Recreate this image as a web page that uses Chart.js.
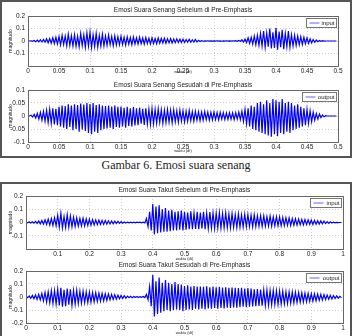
<!DOCTYPE html>
<html>
<head>
<meta charset="utf-8">
<script src="https://cdn.jsdelivr.net/npm/chart.js@4.4.0/dist/chart.umd.min.js"></script>
<style>
body { margin: 0; width: 352px; height: 336px; background: #fff; position: relative; overflow: hidden; }
.frame { position: absolute; left: 0; width: 348px; border: 2px solid #555; }
canvas { position: absolute; left: 0; }
#caption { position: absolute; top: 158px; left: 0; width: 352px; text-align: center;
  font: 12px "Liberation Serif", "Times New Roman", serif; color: #222; }
</style>
</head>
<body>
<div class="frame" style="top:0; height:154px"></div>
<div class="frame" style="top:182px; height:170px"></div>
<canvas id="c1" width="352" height="76" style="top:2px"></canvas>
<canvas id="c2" width="352" height="80" style="top:78px"></canvas>
<div id="caption">Gambar 6. Emosi suara senang</div>
<canvas id="c3" width="352" height="77" style="top:184px"></canvas>
<canvas id="c4" width="352" height="76" style="top:260px"></canvas>
<script>
// peak values of the waveform, alternating up / down, one every "step" seconds
const senangStep = 0.0025;
const takutStep = 0.005;

const senangInput = [
  0, 0, .002, -.003, .004, -.005, .007, -.006, .01, -.008,
  .012, -.01, .018, -.014, .02, -.018, .026, -.02, .03, -.024,
  .035, -.03, .045, -.028, .04, -.038, .055, -.035, .042, -.04,
  .05, -.042, .038, -.045, .06, -.036, .048, -.05, .065, -.04,
  .07, -.052, .05, -.045, .062, -.048, .045, -.04, .055, -.038,
  .04, -.035, .048, -.03, .036, -.038, .042, -.032, .035, -.03,
  .038, -.028, .03, -.032, .034, -.026, .028, -.03, .032, -.024,
  .026, -.025, .03, -.022, .024, -.026, .028, -.02, .022, -.024,
  .025, -.02, .02, -.022, .024, -.018, .02, -.016, .022, -.018,
  .018, -.015, .02, -.016, .015, -.014, .018, -.012, .014, -.013,
  .015, -.012, .012, -.01, .014, -.01, .01, -.009, .012, -.008,
  .006, -.004, .002, -.002, .001, -.001, .002, -.001, .001, -.001,
  .001, -.001, .002, -.001, .001, -.002, .001, -.001, .002, -.001,
  .001, -.001, .002, -.001, .003, -.002, .005, -.004, .01, -.008,
  .015, -.012, .025, -.02, .03, -.025, .04, -.03, .045, -.035,
  .06, -.04, .08, -.05, .065, -.045, .1, -.06, .07, -.055,
  .105, -.07, .075, -.05, .09, -.065, .06, -.045, .08, -.05,
  .05, -.04, .045, -.035, .04, -.03, .035, -.028, .03, -.022,
  .025, -.02, .018, -.015, .012, -.01, .008, -.006, .004, -.003,
  .002, -.001, 0, 0, 0, 0, 0, 0, 0, 0
];

const senangOutput = [
  0, 0, .003, -.004, .006, -.008, .01, -.012, .014, -.016,
  .018, -.02, .022, -.025, .026, -.028, .03, -.032, .028, -.035,
  .035, -.04, .04, -.045, .038, -.05, .045, -.042, .04, -.055,
  .045, -.05, .042, -.06, .048, -.052, .044, -.058, .05, -.065,
  .046, -.07, .05, -.06, .042, -.065, .045, -.055, .04, -.05,
  .038, -.048, .04, -.045, .036, -.05, .04, -.042, .035, -.045,
  .036, -.04, .032, -.045, .035, -.038, .03, -.04, .034, -.036,
  .03, -.035, .032, -.03, .028, -.034, .03, -.03, .026, -.032,
  .028, -.03, .025, -.028, .027, -.025, .024, -.028, .022, -.025,
  .025, -.024, .022, -.026, .024, -.022, .02, -.024, .022, -.02,
  .02, -.022, .018, -.02, .021, -.018, .017, -.02, .018, -.016,
  .016, -.018, .015, -.016, .017, -.014, .015, -.016, .014, -.015,
  .015, -.014, .013, -.015, .014, -.012, .013, -.014, .012, -.013,
  .013, -.012, .012, -.014, .013, -.012, .015, -.014, .018, -.02,
  .025, -.03, .03, -.04, .04, -.05, .035, -.055, .05, -.06,
  .055, -.065, .045, -.07, .06, -.075, .05, -.08, .065, -.07,
  .06, -.078, .055, -.065, .065, -.07, .05, -.06, .055, -.065,
  .05, -.055, .04, -.05, .045, -.045, .035, -.04, .03, -.035,
  .025, -.028, .02, -.022, .015, -.016, .01, -.012, .008, -.006,
  .004, -.003, .001, 0, 0, 0, 0, 0, 0, 0
];

const takutInput = [
  .002, -.002, .004, -.004, .006, -.005, .008, -.007, .012, -.01,
  .015, -.012, .02, -.015, .025, -.02, .03, -.022, .035, -.025,
  .055, -.035, .07, -.04, .045, -.038, .06, -.035, .05, -.032,
  .04, -.03, .035, -.028, .03, -.026, .032, -.025, .028, -.022,
  .025, -.02, .022, -.018, .02, -.016, .018, -.015, .016, -.014,
  .015, -.012, .013, -.011, .012, -.01, .01, -.008, .009, -.007,
  .006, -.005, .004, -.004, .003, -.003, .002, -.002, .002, -.002,
  .002, -.001, .002, -.002, .003, -.003, .03, -.03, .08, -.06,
  .14, -.09, .12, -.08, .13, -.075, .1, -.07, .11, -.07,
  .09, -.065, .095, -.06, .08, -.06, .085, -.055, .09, -.06,
  .08, -.055, .075, -.05, .085, -.05, .07, -.048, .08, -.05,
  .075, -.045, .08, -.05, .07, -.045, .078, -.042, .072, -.045,
  .07, -.04, .075, -.042, .068, -.04, .072, -.038, .065, -.04,
  .068, -.036, .06, -.038, .065, -.035, .058, -.034, .062, -.032,
  .06, -.03, .055, -.032, .058, -.03, .05, -.028, .052, -.03,
  .05, -.028, .045, -.026, .048, -.028, .042, -.025, .044, -.025,
  .042, -.025, .038, -.024, .036, -.022, .034, -.022, .03, -.02,
  .028, -.02, .026, -.018, .024, -.018, .022, -.016, .02, -.015,
  .018, -.015, .016, -.013, .014, -.012, .012, -.01, .01, -.008,
  .007, -.006, .005, -.004, .003, -.002, .001, -.001, 0, 0
];

const takutOutput = [
  .004, -.005, .008, -.01, .012, -.014, .016, -.018, .02, -.022,
  .028, -.03, .035, -.04, .04, -.045, .048, -.05, .05, -.055,
  .06, -.065, .07, -.075, .055, -.07, .065, -.06, .06, -.065,
  .05, -.055, .052, -.05, .045, -.048, .045, -.044, .04, -.042,
  .038, -.04, .035, -.038, .033, -.034, .03, -.032, .028, -.03,
  .026, -.026, .024, -.022, .02, -.02, .018, -.017, .015, -.014,
  .012, -.011, .01, -.009, .007, -.006, .005, -.005, .004, -.003,
  .003, -.003, .003, -.002, .004, -.004, .02, -.02, .08, -.07,
  .17, -.15, .12, -.13, .15, -.12, .11, -.11, .13, -.1,
  .11, -.11, .1, -.1, .115, -.095, .1, -.1, .095, -.11,
  .085, -.1, .09, -.095, .08, -.1, .085, -.09, .08, -.095,
  .08, -.09, .078, -.095, .082, -.088, .075, -.09, .08, -.085,
  .075, -.09, .078, -.085, .072, -.088, .075, -.082, .07, -.085,
  .072, -.08, .07, -.082, .068, -.078, .07, -.075, .065, -.078,
  .068, -.075, .065, -.072, .06, -.07, .062, -.068, .058, -.066,
  .055, -.065, .054, -.062, .05, -.06, .05, -.058, .048, -.056,
  .046, -.055, .044, -.052, .04, -.05, .04, -.048, .038, -.045,
  .036, -.042, .034, -.04, .032, -.038, .03, -.036, .028, -.034,
  .026, -.032, .024, -.03, .022, -.026, .02, -.024, .018, -.02,
  .015, -.018, .013, -.015, .011, -.012, .008, -.009, .005, -.005
];

Chart.defaults.font.family = '"Liberation Sans", Arial, sans-serif';
Chart.defaults.font.size = 6.5;
Chart.defaults.color = '#222';

const fmt = v => String(Math.round(v * 1000) / 1000);

// matlab style box round the axes plus the little legend in the corner
const axesBox = {
  id: 'axesBox',
  afterDatasetsDraw(chart, args, opts) {
    const { ctx, chartArea: a } = chart;
    ctx.save();
    ctx.strokeStyle = '#666';
    ctx.lineWidth = 1;
    ctx.strokeRect(a.left + 0.5, a.top + 0.5, a.width, a.height);
    const w = opts.w, h = 9;
    const x = Math.round(a.right - w - 2) + 0.5, y = Math.round(a.top + 2) + 0.5;
    ctx.fillStyle = '#fff';
    ctx.fillRect(x, y, w, h);
    ctx.strokeStyle = '#777';
    ctx.strokeRect(x, y, w, h);
    ctx.strokeStyle = '#6060ff';
    ctx.beginPath();
    ctx.moveTo(x + 3, y + h / 2);
    ctx.lineTo(x + 13, y + h / 2);
    ctx.stroke();
    ctx.fillStyle = '#222';
    ctx.font = '6px "Liberation Sans", Arial, sans-serif';
    ctx.textAlign = 'right';
    ctx.textBaseline = 'middle';
    ctx.fillText(opts.label, x + w - 2, y + h / 2 + 0.5);
    ctx.restore();
  }
};

function makeChart(id, samples, step, o) {
  const pts = samples.map((v, i) => ({ x: i * step, y: v }));
  return new Chart(document.getElementById(id), {
    type: 'line',
    data: {
      datasets: [{
        data: pts,
        borderColor: '#0000ff',
        borderWidth: 1.2,
        pointRadius: 0,
        tension: 0
      }]
    },
    options: {
      responsive: false,
      animation: false,
      devicePixelRatio: 1,
      layout: { padding: { left: 0, right: o.right, top: 0, bottom: 0 } },
      plugins: {
        legend: { display: false },
        tooltip: { enabled: false },
        title: {
          display: true,
          fullSize: false,
          text: o.title,
          color: '#222',
          font: { size: 6.5, weight: 'normal' },
          padding: o.titlePad
        },
        axesBox: { label: o.label, w: o.legW }
      },
      scales: {
        x: {
          type: 'linear',
          min: 0,
          max: o.xMax,
          ticks: {
            stepSize: o.xStep,
            padding: 1,
            maxRotation: 0,
            autoSkip: false,
            callback: v => (o.xHide.includes(fmt(v)) ? '' : fmt(v))
          },
          grid: { color: '#b0b0b0', lineWidth: 0.6, drawTicks: false },
          border: { display: false, dash: [1, 2] },
          title: {
            display: true,
            text: 'waktu (dt)',
            font: { size: 4 },
            padding: { top: 0, bottom: o.xTitlePad }
          },
          afterFit: s => { s.height = o.xH; }
        },
        y: {
          min: -o.yMax,
          max: o.yMax,
          ticks: {
            stepSize: o.yStep,
            padding: 3,
            callback: v => (o.yHide.includes(fmt(v)) ? '' : fmt(v))
          },
          grid: { color: '#b0b0b0', lineWidth: 0.6, drawTicks: false },
          border: { display: false, dash: [1, 2] },
          title: {
            display: true,
            text: 'magnitudo',
            font: { size: 5 },
            padding: { top: 7.5, bottom: 0 }
          },
          afterFit: s => { s.width = o.yW; }
        }
      }
    },
    plugins: [axesBox]
  });
}

makeChart('c1', senangInput, senangStep, {
  title: 'Emosi Suara Senang Sebelum di Pre-Emphasis', label: 'input', legW: 30,
  titlePad: { top: 4.1, bottom: 2.1 }, right: 14, yW: 28, xH: 12, xTitlePad: 3.3,
  xMax: 0.5, xStep: 0.05, xHide: [], yMax: 0.2, yStep: 0.1, yHide: ['-0.2']
});
makeChart('c2', senangOutput, senangStep, {
  title: 'Emosi Suara Senang Sesudah di Pre-Emphasis', label: 'output', legW: 34,
  titlePad: { top: 3.1, bottom: 1.1 }, right: 14, yW: 28, xH: 16, xTitlePad: 4.8,
  xMax: 0.5, xStep: 0.05, xHide: [], yMax: 0.1, yStep: 0.05, yHide: []
});
makeChart('c3', takutInput, takutStep, {
  title: 'Emosi Suara Takut Sebelum di Pre-Emphasis', label: 'input', legW: 31,
  titlePad: { top: 2.1, bottom: 2.1 }, right: 9, yW: 26, xH: 12, xTitlePad: 0,
  xMax: 1, xStep: 0.1, xHide: ['0'], yMax: 0.2, yStep: 0.1, yHide: ['-0.2']
});
makeChart('c4', takutOutput, takutStep, {
  title: 'Emosi Suara Takut Sesudah di Pre-Emphasis', label: 'output', legW: 35,
  titlePad: { top: 1.1, bottom: 2.1 }, right: 9, yW: 26, xH: 13, xTitlePad: 0.3,
  xMax: 1, xStep: 0.1, xHide: [], yMax: 0.2, yStep: 0.1, yHide: []
});
</script>
</body>
</html>
